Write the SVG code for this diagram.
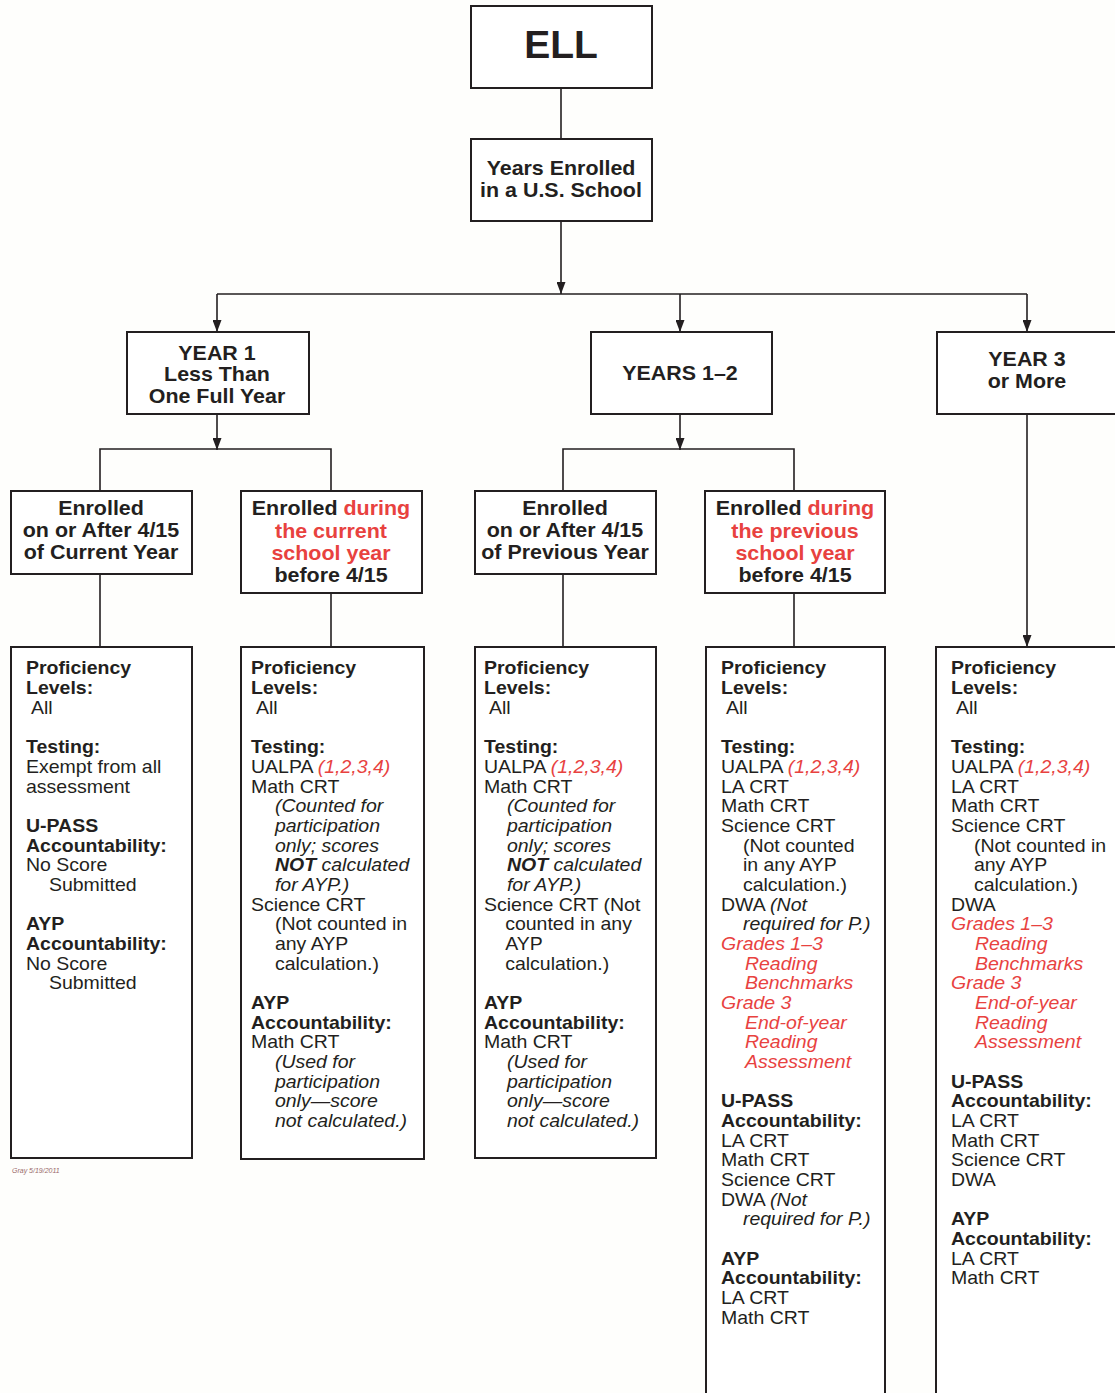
<svg xmlns="http://www.w3.org/2000/svg" width="1115" height="1393" viewBox="0 0 1115 1393">
<style>
.bx{fill:#fff;stroke:#231f20;stroke-width:2}
.cn{stroke:#231f20;stroke-width:1.6;fill:none}
text{font-family:"Liberation Sans",Arial,Helvetica,sans-serif;fill:#231f20}
.top{font-weight:bold;font-size:19.3px;text-anchor:middle}
.hd{font-weight:bold;font-size:19.5px;text-anchor:middle}
.t{font-size:17.5px}
.b{font-weight:bold}
.i{font-style:italic}
.r{fill:#e8423f}
</style>
<defs>
<marker id="ah" markerUnits="userSpaceOnUse" markerWidth="12" markerHeight="9" viewBox="0 0 12 9" refX="12" refY="4.5" orient="auto">
<path d="M0,0 L12,4.5 L0,9 z" fill="#231f20"/>
</marker>
</defs>
<rect width="1115" height="1393" fill="#fefefc"/>

<g id="connectors">
<line class="cn" x1="561" y1="88" x2="561" y2="139"/>
<line class="cn" x1="561" y1="221" x2="561" y2="294" marker-end="url(#ah)"/>
<line class="cn" x1="217" y1="294" x2="1027" y2="294"/>
<line class="cn" x1="217" y1="294" x2="217" y2="332" marker-end="url(#ah)"/>
<line class="cn" x1="680" y1="294" x2="680" y2="332" marker-end="url(#ah)"/>
<line class="cn" x1="1027" y1="294" x2="1027" y2="332" marker-end="url(#ah)"/>
<line class="cn" x1="217" y1="414" x2="217" y2="450" marker-end="url(#ah)"/>
<polyline class="cn" points="100,491 100,449 331,449 331,491"/>
<line class="cn" x1="680" y1="414" x2="680" y2="450" marker-end="url(#ah)"/>
<polyline class="cn" points="563,491 563,449 794,449 794,491"/>
<line class="cn" x1="100" y1="574" x2="100" y2="647"/>
<line class="cn" x1="331" y1="593" x2="331" y2="647"/>
<line class="cn" x1="563" y1="574" x2="563" y2="647"/>
<line class="cn" x1="794" y1="593" x2="794" y2="647"/>
<line class="cn" x1="1027" y1="414" x2="1027" y2="647" marker-end="url(#ah)"/>
</g>

<g id="ell">
<rect class="bx" x="471" y="6" width="181" height="82"/>
<text x="561" y="58" text-anchor="middle" font-weight="bold" font-size="39">ELL</text>
</g>

<g id="years-enrolled">
<rect class="bx" x="471" y="139" width="181" height="82"/>
<g transform="translate(561,0) scale(1.11,1)">
<text class="top" x="0" y="175">Years Enrolled</text>
<text class="top" x="0" y="197">in a U.S. School</text>
</g>
</g>

<g id="year1">
<rect class="bx" x="127" y="332" width="182" height="82"/>
<g transform="translate(217,0) scale(1.11,1)">
<text class="top" x="0" y="360">YEAR 1</text>
<text class="top" x="0" y="381.5">Less Than</text>
<text class="top" x="0" y="403">One Full Year</text>
</g>
</g>

<g id="years12">
<rect class="bx" x="591" y="332" width="181" height="82"/>
<g transform="translate(680,0) scale(1.11,1)">
<text class="top" x="0" y="380">YEARS 1–2</text>
</g>
</g>

<g id="year3">
<rect class="bx" x="937" y="332" width="190" height="82"/>
<g transform="translate(1027,0) scale(1.11,1)">
<text class="top" x="0" y="366">YEAR 3</text>
<text class="top" x="0" y="388">or More</text>
</g>
</g>

<g id="enr-after-current">
<rect class="bx" x="11" y="491" width="181" height="83"/>
<g transform="translate(101,0) scale(1.1,1)">
<text class="hd" x="0" y="515">Enrolled</text>
<text class="hd" x="0" y="537">on or After 4/15</text>
<text class="hd" x="0" y="559">of Current Year</text>
</g>
</g>

<g id="enr-during-current">
<rect class="bx" x="241" y="491" width="181" height="102"/>
<g transform="translate(331,0) scale(1.1,1)">
<text class="hd" x="0" y="515">Enrolled <tspan class="r">during</tspan></text>
<text class="hd r" x="0" y="538">the current</text>
<text class="hd r" x="0" y="560">school year</text>
<text class="hd" x="0" y="582">before 4/15</text>
</g>
</g>

<g id="enr-after-previous">
<rect class="bx" x="475" y="491" width="181" height="83"/>
<g transform="translate(565,0) scale(1.1,1)">
<text class="hd" x="0" y="515">Enrolled</text>
<text class="hd" x="0" y="537">on or After 4/15</text>
<text class="hd" x="0" y="559">of Previous Year</text>
</g>
</g>

<g id="enr-during-previous">
<rect class="bx" x="705" y="491" width="180" height="102"/>
<g transform="translate(795,0) scale(1.1,1)">
<text class="hd" x="0" y="515">Enrolled <tspan class="r">during</tspan></text>
<text class="hd r" x="0" y="538">the previous</text>
<text class="hd r" x="0" y="560">school year</text>
<text class="hd" x="0" y="582">before 4/15</text>
</g>
</g>

<g id="detail-a">
<rect class="bx" x="11" y="647" width="181" height="511"/>
<g transform="translate(26,0) scale(1.114,1)">
<text class="t">
<tspan class="b" x="0" y="674">Proficiency</tspan>
<tspan class="b" x="0" y="694">Levels:</tspan>
<tspan x="4.5" y="714">All</tspan>
<tspan class="b" x="0" y="753">Testing:</tspan>
<tspan x="0" y="773">Exempt from all</tspan>
<tspan x="0" y="793">assessment</tspan>
<tspan class="b" x="0" y="832">U-PASS</tspan>
<tspan class="b" x="0" y="852">Accountability:</tspan>
<tspan x="0" y="871">No Score</tspan>
<tspan x="20.6" y="891">Submitted</tspan>
<tspan class="b" x="0" y="930">AYP</tspan>
<tspan class="b" x="0" y="950">Accountability:</tspan>
<tspan x="0" y="970">No Score</tspan>
<tspan x="20.6" y="989">Submitted</tspan>
</text>
</g>
<text x="12" y="1173" font-size="7" font-style="italic" style="fill:#9a6a6a">Gray 5/19/2011</text>
</g>

<g id="detail-b">
<rect class="bx" x="241" y="647" width="183" height="512"/>
<g transform="translate(251,0) scale(1.114,1)">
<text class="t">
<tspan class="b" x="0" y="674">Proficiency</tspan>
<tspan class="b" x="0" y="694">Levels:</tspan>
<tspan x="4.5" y="714">All</tspan>
<tspan class="b" x="0" y="753">Testing:</tspan>
<tspan x="0" y="773">UALPA <tspan class="i r">(1,2,3,4)</tspan></tspan>
<tspan x="0" y="793">Math CRT</tspan>
<tspan class="i" x="21.5" y="812">(Counted for</tspan>
<tspan class="i" x="21.5" y="832">participation</tspan>
<tspan class="i" x="21.5" y="852">only; scores</tspan>
<tspan class="i" x="21.5" y="871"><tspan class="b">NOT</tspan> calculated</tspan>
<tspan class="i" x="21.5" y="891">for AYP.)</tspan>
<tspan x="0" y="911">Science CRT</tspan>
<tspan x="21.5" y="930">(Not counted in</tspan>
<tspan x="21.5" y="950">any AYP</tspan>
<tspan x="21.5" y="970">calculation.)</tspan>
<tspan class="b" x="0" y="1009">AYP</tspan>
<tspan class="b" x="0" y="1029">Accountability:</tspan>
<tspan x="0" y="1048">Math CRT</tspan>
<tspan class="i" x="21.5" y="1068">(Used for</tspan>
<tspan class="i" x="21.5" y="1088">participation</tspan>
<tspan class="i" x="21.5" y="1107">only—score</tspan>
<tspan class="i" x="21.5" y="1127">not calculated.)</tspan>
</text>
</g>
</g>

<g id="detail-c">
<rect class="bx" x="475" y="647" width="181" height="511"/>
<g transform="translate(484,0) scale(1.114,1)">
<text class="t">
<tspan class="b" x="0" y="674">Proficiency</tspan>
<tspan class="b" x="0" y="694">Levels:</tspan>
<tspan x="4.5" y="714">All</tspan>
<tspan class="b" x="0" y="753">Testing:</tspan>
<tspan x="0" y="773">UALPA <tspan class="i r">(1,2,3,4)</tspan></tspan>
<tspan x="0" y="793">Math CRT</tspan>
<tspan class="i" x="20.6" y="812">(Counted for</tspan>
<tspan class="i" x="20.6" y="832">participation</tspan>
<tspan class="i" x="20.6" y="852">only; scores</tspan>
<tspan class="i" x="20.6" y="871"><tspan class="b">NOT</tspan> calculated</tspan>
<tspan class="i" x="20.6" y="891">for AYP.)</tspan>
<tspan x="0" y="911">Science CRT (Not</tspan>
<tspan x="19" y="930">counted in any</tspan>
<tspan x="19" y="950">AYP</tspan>
<tspan x="19" y="970">calculation.)</tspan>
<tspan class="b" x="0" y="1009">AYP</tspan>
<tspan class="b" x="0" y="1029">Accountability:</tspan>
<tspan x="0" y="1048">Math CRT</tspan>
<tspan class="i" x="20.6" y="1068">(Used for</tspan>
<tspan class="i" x="20.6" y="1088">participation</tspan>
<tspan class="i" x="20.6" y="1107">only—score</tspan>
<tspan class="i" x="20.6" y="1127">not calculated.)</tspan>
</text>
</g>
</g>

<g id="detail-d">
<rect class="bx" x="706" y="647" width="179" height="760"/>
<g transform="translate(721,0) scale(1.114,1)">
<text class="t">
<tspan class="b" x="0" y="674">Proficiency</tspan>
<tspan class="b" x="0" y="694">Levels:</tspan>
<tspan x="4.5" y="714">All</tspan>
<tspan class="b" x="0" y="753">Testing:</tspan>
<tspan x="0" y="773">UALPA <tspan class="i r">(1,2,3,4)</tspan></tspan>
<tspan x="0" y="793">LA CRT</tspan>
<tspan x="0" y="812">Math CRT</tspan>
<tspan x="0" y="832">Science CRT</tspan>
<tspan x="19.7" y="852">(Not counted</tspan>
<tspan x="19.7" y="871">in any AYP</tspan>
<tspan x="19.7" y="891">calculation.)</tspan>
<tspan x="0" y="911">DWA <tspan class="i">(Not</tspan></tspan>
<tspan class="i" x="19.7" y="930">required for P.)</tspan>
<tspan class="i r" x="0" y="950">Grades 1–3</tspan>
<tspan class="i r" x="21.5" y="970">Reading</tspan>
<tspan class="i r" x="21.5" y="989">Benchmarks</tspan>
<tspan class="i r" x="0" y="1009">Grade 3</tspan>
<tspan class="i r" x="21.5" y="1029">End-of-year</tspan>
<tspan class="i r" x="21.5" y="1048">Reading</tspan>
<tspan class="i r" x="21.5" y="1068">Assessment</tspan>
<tspan class="b" x="0" y="1107">U-PASS</tspan>
<tspan class="b" x="0" y="1127">Accountability:</tspan>
<tspan x="0" y="1147">LA CRT</tspan>
<tspan x="0" y="1166">Math CRT</tspan>
<tspan x="0" y="1186">Science CRT</tspan>
<tspan x="0" y="1206">DWA <tspan class="i">(Not</tspan></tspan>
<tspan class="i" x="19.7" y="1225">required for P.)</tspan>
<tspan class="b" x="0" y="1265">AYP</tspan>
<tspan class="b" x="0" y="1284">Accountability:</tspan>
<tspan x="0" y="1304">LA CRT</tspan>
<tspan x="0" y="1324">Math CRT</tspan>
</text>
</g>
</g>

<g id="detail-e">
<rect class="bx" x="936" y="647" width="190" height="760"/>
<g transform="translate(951,0) scale(1.114,1)">
<text class="t">
<tspan class="b" x="0" y="674">Proficiency</tspan>
<tspan class="b" x="0" y="694">Levels:</tspan>
<tspan x="4.5" y="714">All</tspan>
<tspan class="b" x="0" y="753">Testing:</tspan>
<tspan x="0" y="773">UALPA <tspan class="i r">(1,2,3,4)</tspan></tspan>
<tspan x="0" y="793">LA CRT</tspan>
<tspan x="0" y="812">Math CRT</tspan>
<tspan x="0" y="832">Science CRT</tspan>
<tspan x="20.6" y="852">(Not counted in</tspan>
<tspan x="20.6" y="871">any AYP</tspan>
<tspan x="20.6" y="891">calculation.)</tspan>
<tspan x="0" y="911">DWA</tspan>
<tspan class="i r" x="0" y="930">Grades 1–3</tspan>
<tspan class="i r" x="21.5" y="950">Reading</tspan>
<tspan class="i r" x="21.5" y="970">Benchmarks</tspan>
<tspan class="i r" x="0" y="989">Grade 3</tspan>
<tspan class="i r" x="21.5" y="1009">End-of-year</tspan>
<tspan class="i r" x="21.5" y="1029">Reading</tspan>
<tspan class="i r" x="21.5" y="1048">Assessment</tspan>
<tspan class="b" x="0" y="1088">U-PASS</tspan>
<tspan class="b" x="0" y="1107">Accountability:</tspan>
<tspan x="0" y="1127">LA CRT</tspan>
<tspan x="0" y="1147">Math CRT</tspan>
<tspan x="0" y="1166">Science CRT</tspan>
<tspan x="0" y="1186">DWA</tspan>
<tspan class="b" x="0" y="1225">AYP</tspan>
<tspan class="b" x="0" y="1245">Accountability:</tspan>
<tspan x="0" y="1265">LA CRT</tspan>
<tspan x="0" y="1284">Math CRT</tspan>
</text>
</g>
</g>
</svg>
